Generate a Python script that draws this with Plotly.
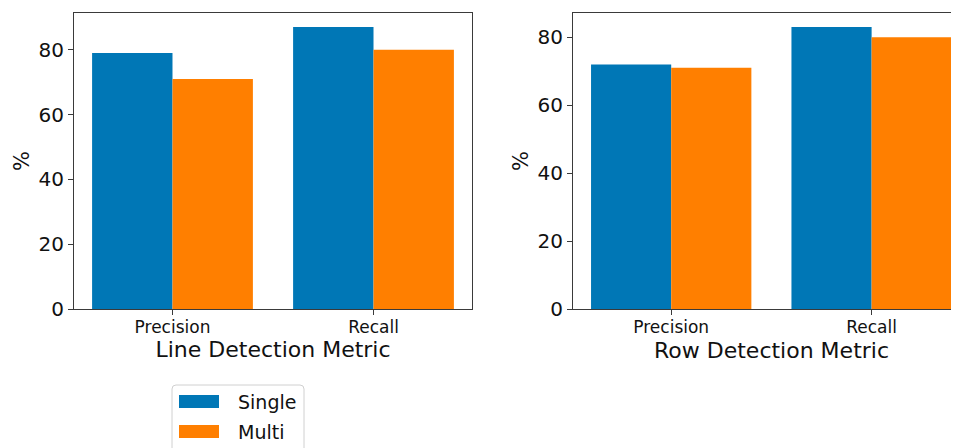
import plotly.graph_objects as go

# ---- data ----
metrics = ["Precision", "Recall"]
line_single = [79, 87]
line_multi = [71, 80]
row_single = [72, 83]
row_multi = [71, 80]
series_names = ["Single", "Multi"]
colors = ["#0077b6", "#ff7f00"]
x_titles = ["Line Detection Metric", "Row Detection Metric"]

# page body has an 8px margin: figure is sized/offset so it fills the 959x448 window
OFF = 8
W, H = 959 - OFF, 448 - OFF
T = 13 - OFF
B = H - (309 - OFF)
PH = H - T - B
FONT = "DejaVu Sans"
AX_COL = "#3a3a3a"


def px_x(px):
    """window pixel -> paper x"""
    return (px - OFF) / W


def px_y(py):
    """window pixel -> paper y"""
    return (309 - py) / PH


fig = go.Figure()
panels = [(line_single, line_multi, "x", "y"), (row_single, row_multi, "x2", "y2")]
for single, multi, xa, ya in panels:
    for vals, name, col in zip([single, multi], series_names, colors):
        fig.add_trace(go.Bar(
            x=metrics, y=vals, name=name, marker_color=col,
            marker_line_width=0, xaxis=xa, yaxis=ya, showlegend=False,
        ))

axis_common = dict(
    showline=True, linecolor=AX_COL, linewidth=1,
    ticks="outside", ticklen=5, tickwidth=1, tickcolor=AX_COL,
    showgrid=False, zeroline=False, automargin=False,
)
ytick_font = dict(family=FONT, size=20, color="#111")
xtick_font = dict(family=FONT, size=17, color="#111")

ymax_l = max(line_single + line_multi) * 1.05
ymax_r = max(row_single + row_multi) * 1.05

fig.update_layout(
    width=W, height=H,
    margin=dict(l=0, r=0, t=T, b=B),
    paper_bgcolor="white", plot_bgcolor="white",
    barmode="group", bargap=0.2, bargroupgap=0,
    font=dict(family=FONT, color="#111"),
    xaxis=dict(domain=[px_x(74), px_x(472)], range=[-0.49, 1.49], mirror=True,
               tickfont=xtick_font, anchor="y", ticklabelstandoff=-2,
               title=dict(text=x_titles[0], font=dict(family=FONT, size=22), standoff=4),
               **axis_common),
    yaxis=dict(range=[0, ymax_l], dtick=20, mirror=True, tickfont=ytick_font, anchor="x",
               title=dict(text="%", font=dict(family=FONT, size=21), standoff=3),
               **axis_common),
    xaxis2=dict(domain=[px_x(573), 1.0], range=[-0.49, 1.436], mirror=True,
                tickfont=xtick_font, anchor="y2", ticklabelstandoff=-2, **axis_common),
    yaxis2=dict(range=[0, ymax_r], dtick=20, mirror=False, tickfont=ytick_font, anchor="x2",
                title=dict(text="%", font=dict(family=FONT, size=21), standoff=3),
                **axis_common),
)

# right panel x title (axis extends beyond the visible frame in the original)
fig.add_annotation(x=px_x(771), y=px_y(350), xref="paper", yref="paper",
                   text=x_titles[1], showarrow=False, xanchor="center", yanchor="middle",
                   font=dict(family=FONT, size=22, color="#111"))

# custom legend box
x0, x1, y0, y1, r = 172, 304, 385, 470, 4
path = (f"M {px_x(x0)},{px_y(y1)} L {px_x(x0)},{px_y(y0 + r)} "
        f"Q {px_x(x0)},{px_y(y0)} {px_x(x0 + r)},{px_y(y0)} "
        f"L {px_x(x1 - r)},{px_y(y0)} Q {px_x(x1)},{px_y(y0)} {px_x(x1)},{px_y(y0 + r)} "
        f"L {px_x(x1)},{px_y(y1)}")
fig.add_shape(type="path", path=path, xref="paper", yref="paper",
              line=dict(color="#d0d0d0", width=1), fillcolor="white", layer="above")
for i, (name, col) in enumerate(zip(series_names, colors)):
    cy = 401.5 + 30 * i
    fig.add_shape(type="rect", xref="paper", yref="paper",
                  x0=px_x(179), x1=px_x(219), y0=px_y(cy - 6.5), y1=px_y(cy + 6.5),
                  fillcolor=col, line=dict(width=0), layer="above")
    fig.add_annotation(x=px_x(236), y=px_y(cy), xref="paper", yref="paper",
                       text=name, showarrow=False, xanchor="left", yanchor="middle",
                       font=dict(family=FONT, size=19, color="#111"))

fig.write_html("out.html")
